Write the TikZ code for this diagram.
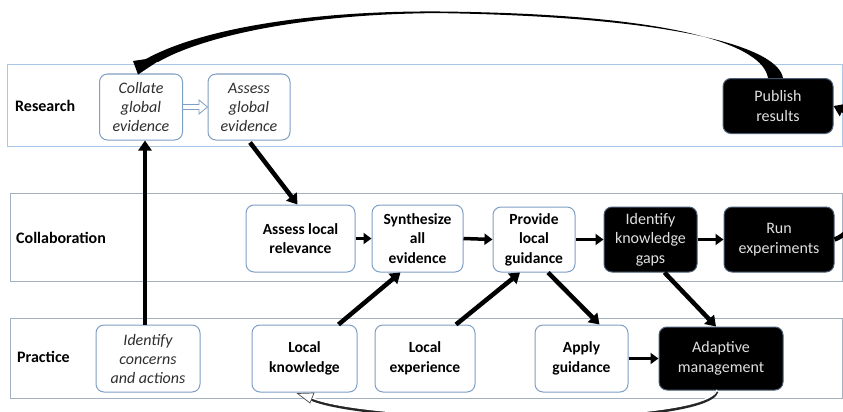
\documentclass[tikz,border=0pt]{standalone}
\usepackage{fontspec}
\setmainfont{Carlito}
\usetikzlibrary{arrows.meta,calc}
\definecolor{lanecolA}{HTML}{A8C6E6}
\definecolor{lanecolB}{HTML}{A3B0C0}
\definecolor{boxcol}{HTML}{7F9FC4}
\definecolor{txtgray}{HTML}{2E2E2E}
\begin{document}
\begin{tikzpicture}[x=1pt,y=-1pt,
  lane/.style={draw=#1, line width=1pt, inner sep=0pt},
  lanelabel/.style={anchor=west, font=\fontsize{16}{19}\selectfont\bfseries, inner sep=0pt},
  wbox/.style={draw=boxcol, line width=1pt, rounded corners=8pt, fill=white, align=center,
     inner sep=0pt, font=\fontsize{15.5}{19.5}\selectfont\bfseries},
  ibox/.style={wbox, font=\fontsize{16}{19}\selectfont\itshape, text=txtgray},
  bbox/.style={draw=boxcol!60!black, line width=1pt, rounded corners=8pt, fill=black, align=center,
     inner sep=0pt, text=white!88!black, font=\fontsize{16}{19.5}\selectfont},
  arr/.style={-{Triangle[length=10pt,width=13pt]}, line width=4.5pt, black},
  sarr/.style={-{Triangle[length=8pt,width=11pt]}, line width=3.5pt, black}]
\useasboundingbox (0,0) rectangle (843,412);
\clip (0,0) rectangle (843,412);

% lanes
\node[lane=lanecolA, minimum width=835pt, minimum height=81pt] (research) at (424.5,105.5) {};
\node[lane=lanecolB, minimum width=832pt, minimum height=88pt] (collab) at (426,237) {};
\node[lane=lanecolB, minimum width=832pt, minimum height=80pt] (practice) at (426,358) {};
\node[lanelabel] (lr) at (15,106) {Research};
\node[lanelabel] (lc) at (16,238) {Collaboration};
\node[lanelabel] (lp) at (17,357) {Practice};

% research nodes
\node[ibox, minimum width=83pt, minimum height=66pt] (coll) at (141,107) {Collate\\global\\evidence};
\node[ibox, minimum width=82pt, minimum height=66pt] (assg) at (249,107) {Assess\\global\\evidence};
\node[bbox, minimum width=110pt, minimum height=55pt] (pub) at (778,106) {Publish\\results};

% collaboration nodes
\node[wbox, minimum width=109pt, minimum height=67pt] (assl) at (300.5,238.5) {Assess local\\relevance};
\node[wbox, minimum width=91pt, minimum height=67pt] (syn) at (417.5,238.5) {Synthesize\\all\\evidence};
\node[wbox, minimum width=82pt, minimum height=65pt] (prov) at (534,239.5) {Provide\\local\\guidance};
\node[bbox, minimum width=93pt, minimum height=65pt] (gaps) at (650.5,239.5) {Identify\\knowledge\\gaps};
\node[bbox, minimum width=110pt, minimum height=65pt] (run) at (779,239.5) {Run\\experiments};

% practice nodes
\node[ibox, minimum width=104pt, minimum height=67pt] (iden) at (148,358.5) {Identify\\concerns\\and actions};
\node[wbox, minimum width=105pt, minimum height=67pt] (lk) at (304.5,358.5) {Local\\knowledge};
\node[wbox, minimum width=100pt, minimum height=67pt] (le) at (425,358.5) {Local\\experience};
\node[wbox, minimum width=93pt, minimum height=67pt] (app) at (581.5,358.5) {Apply\\guidance};
\node[bbox, minimum width=124pt, minimum height=63pt] (ada) at (721,358.5) {Adaptive\\management};

% open arrow collate -> assess global
\draw[boxcol, fill=white, line width=0.8pt]
  ($(coll.east)+(0,-2.5)$) -- ($(coll.east)+(16,-2.5)$) -- ($(coll.east)+(16,-7)$)
  -- (assg.west) -- ($(coll.east)+(16,7)$) -- ($(coll.east)+(16,2.5)$) -- ($(coll.east)+(0,2.5)$);

% vertical practice -> research
\draw[arr] ($(iden.north)+(-3,0)$) -- ($(iden.north |- coll.south)+(-3,0)$);
% assess global -> assess local
\draw[arr] ($(assg.south)+(1,2)$) -- ($(assl.north)+(-3,0)$);

% collaboration chain
\draw[sarr] (assl.east) -- (syn.west);
\draw[sarr] (syn.east) -- (prov.west);
\draw[sarr] (prov.east) -- (gaps.west);
\draw[sarr] (gaps.east) -- (run.west);
\draw[sarr] (app.east) -- (ada.west);

% diagonals
\draw[arr] ($(lk.north)+(34,0)$) -- ($(syn.south)+(-17,0)$);
\draw[arr] ($(le.north)+(31,0)$) -- ($(prov.south)+(-14,0)$);
\draw[arr] ($(prov.south)+(14,0)$) -- ($(app.north)+(18,0)$);
\draw[arr] ($(gaps.south)+(14,0)$) -- ($(ada.north)+(-5,0)$);

% run -> publish (mostly outside the picture)
\draw[arr] (run.east) .. controls (875,225) and (875,125) .. (pub.east);

% publish -> collate: tapered curve
\coordinate (pt) at (pub.north);
\coordinate (ct) at (coll.north);
\fill[black] ($(pt)+(-10,0)$) .. controls (763,46) and (680,14) .. (440,11.5)
  .. controls (310,10.5) and (200,29) .. (146,59)
  -- (158,62) .. controls (205,35) and (310,13.5) .. (440,13.1)
  .. controls (680,17) and (778,48) .. ($(pt)+(5,0)$) -- cycle;
\fill[black] ($(ct)+(-3,1)$) -- (133,61) -- (166,56) -- cycle;

% adaptive -> local knowledge: ribbon with open head
\draw[black!85, line width=3pt] ($(ada.south)+(-4,1)$) .. controls (705,428) and (370,425) .. (311,399);
\draw[white, line width=1.4pt] ($(ada.south)+(-4,-0.5)$) .. controls (704,426) and (370,423) .. (311,397.5);
\draw[black!70, fill=white, line width=0.7pt] ($(lk.south)+(-7,1)$) -- (314,393) -- (310,403) -- cycle;
\end{tikzpicture}
\end{document}
